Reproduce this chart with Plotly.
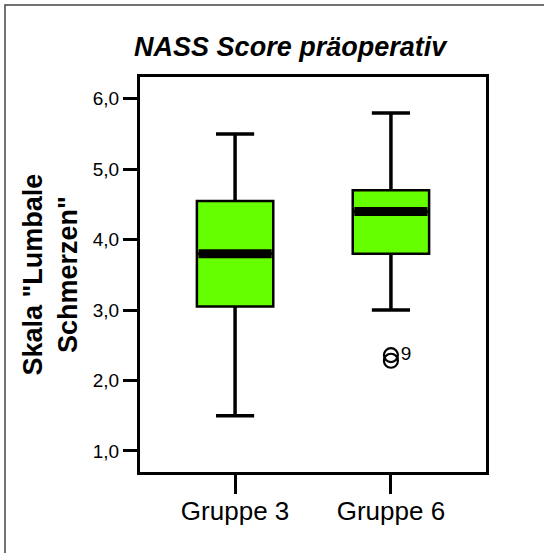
import plotly.graph_objects as go

groups = ["Gruppe 3", "Gruppe 6"]
x_pos = [0, 1]
lower_whisker = [1.5, 3.0]
q1 = [3.05, 3.8]
median = [3.8, 4.4]
q3 = [4.55, 4.7]
upper_whisker = [5.5, 5.8]
outlier_x = [1, 1]
outlier_y = [2.36, 2.28]
outlier_labels = ["9", ""]
y_ticks = [1, 2, 3, 4, 5, 6]
y_ticklabels = ["1,0", "2,0", "3,0", "4,0", "5,0", "6,0"]

BOX_W = 0.49
CAP_W = 0.245
GREEN = "#66ff00"
FONT = "Liberation Sans, Arial, sans-serif"

fig = go.Figure()
for i in range(len(groups)):
    fig.add_trace(go.Box(
        x=[x_pos[i]], q1=[q1[i]], median=[median[i]], q3=[q3[i]],
        lowerfence=[q1[i]], upperfence=[q3[i]],
        width=BOX_W, fillcolor=GREEN, line=dict(color="black", width=2.5),
        whiskerwidth=0, boxpoints=False, showlegend=False, hoverinfo="skip"))
    # whiskers
    fig.add_trace(go.Scatter(
        x=[x_pos[i], x_pos[i], None, x_pos[i], x_pos[i]],
        y=[q3[i], upper_whisker[i], None, q1[i], lower_whisker[i]],
        mode="lines", line=dict(color="black", width=3.5), showlegend=False, hoverinfo="skip"))
    fig.add_trace(go.Scatter(
        x=[x_pos[i] - CAP_W / 2, x_pos[i] + CAP_W / 2, None, x_pos[i] - CAP_W / 2, x_pos[i] + CAP_W / 2],
        y=[upper_whisker[i], upper_whisker[i], None, lower_whisker[i], lower_whisker[i]],
        mode="lines", line=dict(color="black", width=3.5), showlegend=False, hoverinfo="skip"))
    # median band
    fig.add_trace(go.Scatter(
        x=[x_pos[i] - BOX_W / 2 + 0.01, x_pos[i] + BOX_W / 2 - 0.01],
        y=[median[i], median[i]],
        mode="lines", line=dict(color="black", width=9), showlegend=False, hoverinfo="skip"))

fig.add_trace(go.Scatter(
    x=outlier_x, y=outlier_y, mode="markers+text", text=outlier_labels,
    textposition="middle right", textfont=dict(family=FONT, size=19, color="black"),
    marker=dict(symbol="circle-open", size=14, color="black", line=dict(width=2.2)),
    showlegend=False, hoverinfo="skip"))

fig.update_layout(
    width=544, height=553,
    margin=dict(l=140, r=58, t=77, b=81),
    plot_bgcolor="white", paper_bgcolor="white",
    font=dict(family=FONT, color="black"),
    title=dict(text="<b><i>NASS Score präoperativ</i></b>", x=0.434, xref="paper", xanchor="center",
               y=0.915, yref="container", yanchor="middle",
               font=dict(family=FONT, size=27, color="black")),
    xaxis=dict(range=[-0.61, 1.61], tickvals=x_pos, ticktext=groups, ticks="outside",
               ticklen=19, tickwidth=2.5, tickcolor="black", showgrid=False, zeroline=False,
               showline=True, linecolor="black", linewidth=3, mirror=True, ticklabelstandoff=-5,
               tickfont=dict(family=FONT, size=26, color="black")),
    yaxis=dict(range=[0.70, 6.31], tickvals=y_ticks, ticktext=y_ticklabels, ticks="outside",
               ticklen=14, tickwidth=2.5, tickcolor="black", showgrid=False, zeroline=False,
               showline=True, linecolor="black", linewidth=3, mirror=True,
               tickfont=dict(family=FONT, size=19, color="black")),
    shapes=[dict(type="rect", xref="paper", yref="paper",
                 x0=(5 - 140) / 346, x1=(600 - 140) / 346,
                 y0=(472 - 600) / 395, y1=(472 - 5) / 395,
                 line=dict(color="#444", width=1.5), fillcolor="rgba(0,0,0,0)", layer="below")],
    annotations=[dict(text="<b>Skala \"Lumbale<br>Schmerzen\"</b>", textangle=-90,
                      xref="paper", yref="paper", x=(50 - 140) / 346, y=0.5,
                      xanchor="center", yanchor="middle", showarrow=False,
                      font=dict(family=FONT, size=27, color="black"))],
)

fig.write_html("out.html")
